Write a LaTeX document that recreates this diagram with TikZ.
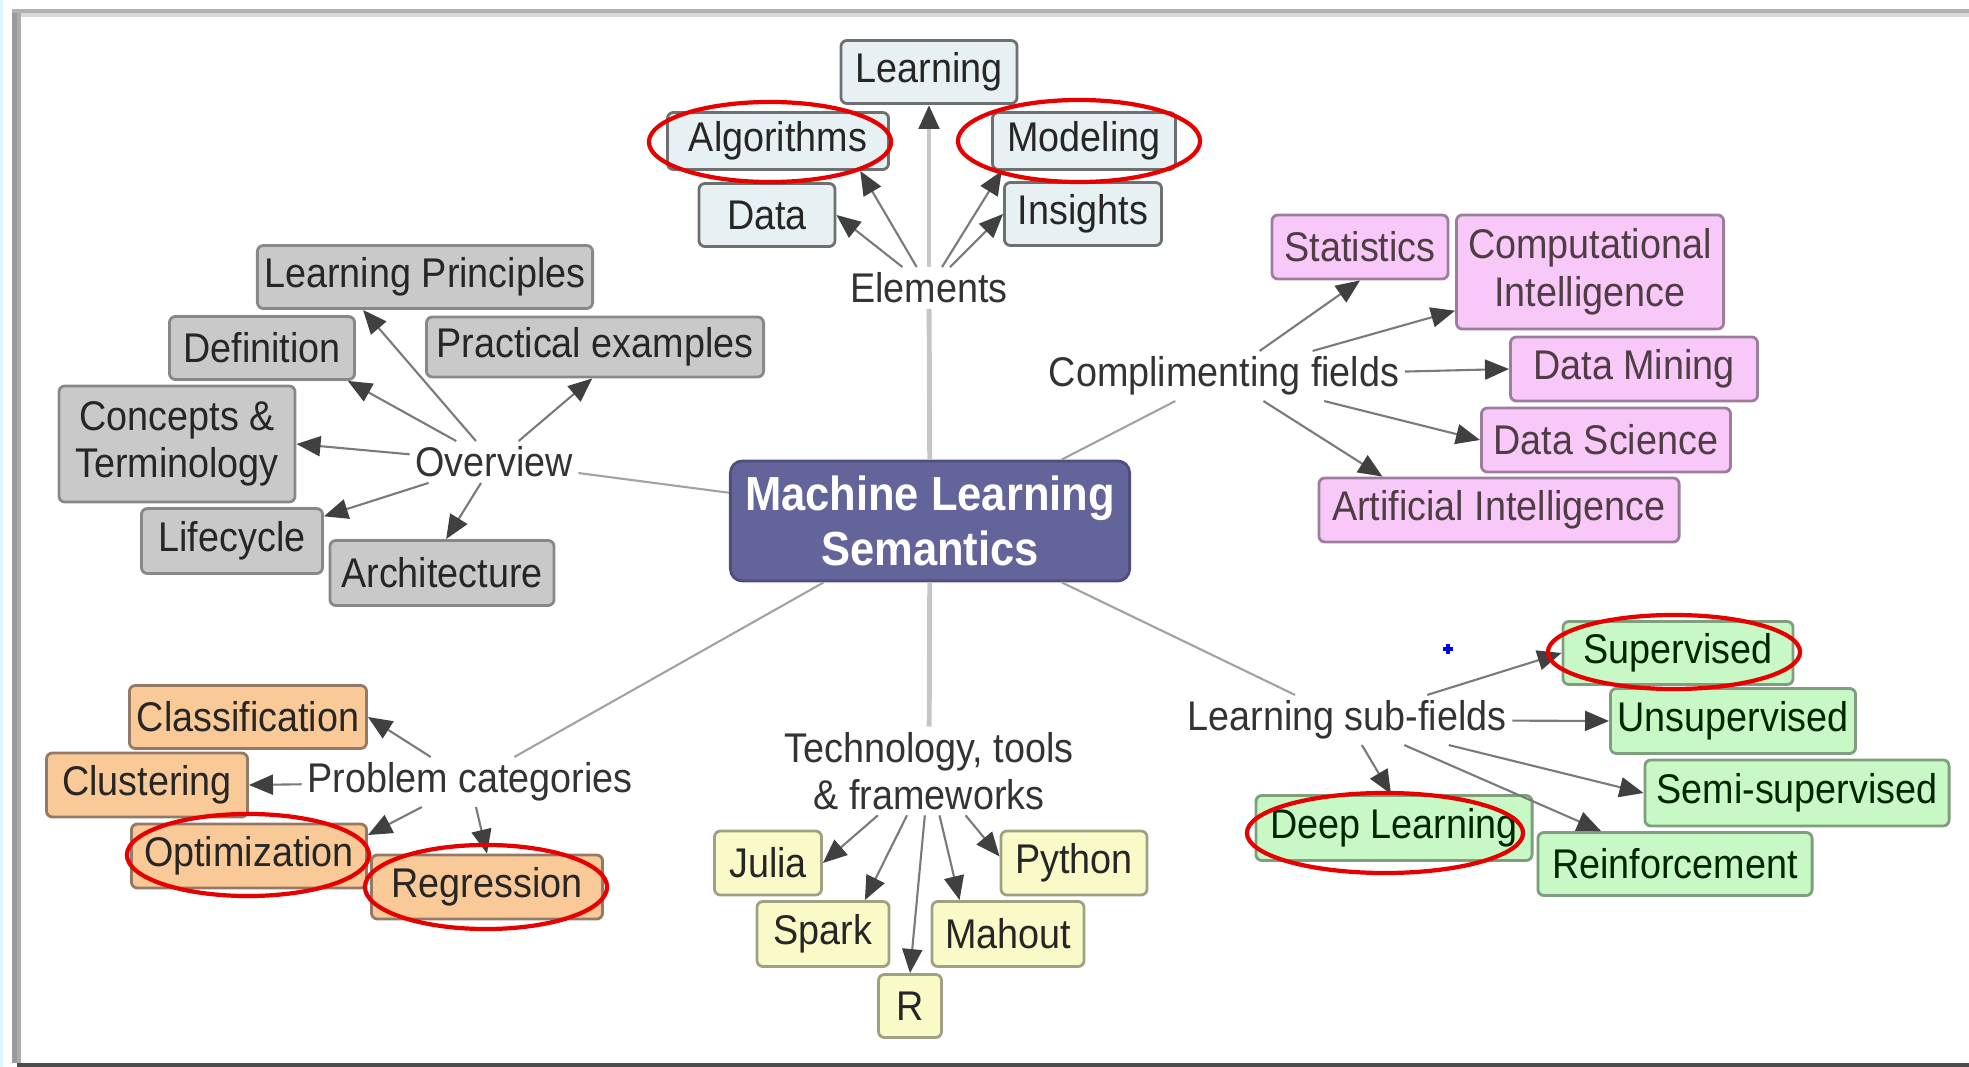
\documentclass[tikz,border=0pt]{standalone}
\usepackage{fontspec}
\setmainfont{Liberation Sans}[FakeStretch=0.91]
\usetikzlibrary{arrows.meta}

\definecolor{hubfill}{HTML}{62649A}
\definecolor{hubline}{HTML}{4E4F7E}
\definecolor{elfill}{HTML}{E7F0F3}
\definecolor{elline}{HTML}{6E7070}
\definecolor{ovfill}{HTML}{C9C9C9}
\definecolor{ovline}{HTML}{888888}
\definecolor{cffill}{HTML}{F8C9F8}
\definecolor{cfline}{HTML}{9C7E9C}
\definecolor{sffill}{HTML}{C8F8C6}
\definecolor{sfline}{HTML}{7E9E7E}
\definecolor{pcfill}{HTML}{F9CA98}
\definecolor{pcline}{HTML}{947A66}
\definecolor{ttfill}{HTML}{FAFAC9}
\definecolor{ttline}{HTML}{A0A082}
\definecolor{ringred}{HTML}{E60000}
\definecolor{linegray}{HTML}{7A7A7A}
\definecolor{tipgray}{HTML}{404040}

\tikzset{
  box/.style={rectangle, rounded corners=0.6mm, line width=0.8pt, minimum height=0.63cm,
    inner sep=0pt, align=center, text=black!85, font=\fontsize{11.8}{13.5}\selectfont},
  elembox/.style={box, draw=elline, fill=elfill},
  ovwbox/.style={box, draw=ovline, fill=ovfill},
  cmpbox/.style={box, draw=cfline, fill=cffill, text=black!80!magenta},
  subbox/.style={box, draw=sfline, fill=sffill, text=black!85!green},
  probox/.style={box, draw=pcline, fill=pcfill},
  tecbox/.style={box, draw=ttline, fill=ttfill},
  hubbox/.style={rectangle, rounded corners=1.2mm, line width=0.8pt, draw=hubline, fill=hubfill,
    minimum width=3.99cm, minimum height=1.2cm, align=center, text=white,
    font=\fontsize{13.6}{15.7}\selectfont\bfseries},
  lbl/.style={inner sep=0.05cm, align=center, text=black!80, font=\fontsize{11.8}{13.3}\selectfont},
  trunk/.style={draw=gray!45, line width=1.4pt},
  link/.style={draw=linegray!70, line width=0.6pt},
  arr/.style={draw=linegray, line width=0.6pt, -{Triangle[length=0.24cm, width=0.2cm, color=tipgray]}},
  ring/.style={draw=ringred, line width=1.2pt}
}

\begin{document}
\begin{tikzpicture}[x=0.01cm, y=-0.01cm]
\useasboundingbox (0,0) rectangle (1969,1067);

% frame of the screenshot
\fill[blue!20!cyan!15] (0,0) rectangle (3,1067);
\fill[gray!80] (12,9) rectangle (16.5,1063);
\fill[gray!65] (16.5,13) rectangle (20.5,1063);
\fill[gray!60] (12,9) rectangle (1969,13.5);
\fill[gray!30] (20.5,13.5) rectangle (1969,17.5);
\fill[black!70] (17,1063) rectangle (1969,1067);

% centre
\node[hubbox] (hub) at (930,521) {Machine Learning\\Semantics};

% elements
\node[lbl] (elm) at (929,288) {Elements};
\node[elembox, minimum width=1.76cm] (lrn) at (929,72) {Learning};
\node[elembox, minimum width=2.21cm, minimum height=0.57cm] (alg) at (778,141) {Algorithms};
\node[elembox, minimum width=1.83cm, minimum height=0.57cm] (mdl) at (1084,141) {Modeling};
\node[elembox, minimum width=1.36cm] (dat) at (767,215) {Data};
\node[elembox, minimum width=1.57cm] (ins) at (1083,214) {Insights};

% overview
\node[lbl] (ovw) at (494,462) {Overview};
\node[ovwbox, minimum width=3.35cm] (lpr) at (425,277) {Learning Principles};
\node[ovwbox, minimum width=1.85cm] (dfn) at (262,348) {Definition};
\node[ovwbox, minimum width=3.37cm, minimum height=0.6cm] (pex) at (595,347) {Practical examples};
\node[ovwbox, minimum width=2.36cm, minimum height=1.16cm] (cat) at (177,444) {Concepts \&\\Terminology};
\node[ovwbox, minimum width=1.81cm, minimum height=0.65cm] (lfc) at (232,541) {Lifecycle};
\node[ovwbox, minimum width=2.24cm, minimum height=0.65cm] (arc) at (442,573) {Architecture};

% complimenting fields
\node[lbl] (cfl) at (1224,376) {Complimenting fields};
\node[cmpbox, minimum width=1.76cm, minimum height=0.64cm] (sta) at (1360,247) {Statistics};
\node[cmpbox, minimum width=2.67cm, minimum height=1.14cm] (cin) at (1590,272) {Computational\\Intelligence};
\node[cmpbox, minimum width=2.47cm, minimum height=0.64cm] (dmi) at (1634,369) {Data Mining};
\node[cmpbox, minimum width=2.49cm, minimum height=0.64cm] (dsc) at (1606,440) {Data Science};
\node[cmpbox, minimum width=3.60cm, minimum height=0.64cm] (art) at (1499,510) {Artificial Intelligence};

% learning sub-fields
\node[lbl] (lsf) at (1347,720) {Learning sub-fields};
\node[subbox, minimum width=2.30cm] (sup) at (1678,653) {Supervised};
\node[subbox, minimum width=2.45cm, minimum height=0.65cm] (uns) at (1733,721) {Unsupervised};
\node[subbox, minimum width=3.04cm, minimum height=0.66cm] (ssv) at (1797,793) {Semi-supervised};
\node[subbox, minimum width=2.76cm, minimum height=0.65cm] (dpl) at (1394,828) {Deep Learning};
\node[subbox, minimum width=2.74cm] (rnf) at (1675,864) {Reinforcement};

% problem categories
\node[lbl] (pcat) at (470,782) {Problem categories};
\node[probox, minimum width=2.37cm] (cls) at (248,717) {Classification};
\node[probox, minimum width=2.01cm, minimum height=0.64cm] (clu) at (147,785) {Clustering};
\node[probox, minimum width=2.35cm, minimum height=0.64cm] (opt) at (249,856) {Optimization};
\node[probox, minimum width=2.31cm, minimum height=0.64cm] (reg) at (487,887) {Regression};

% technology
\node[lbl] (tec) at (929,771) {Technology, tools\\\& frameworks};
\node[tecbox, minimum width=1.07cm, minimum height=0.64cm] (jul) at (768,863) {Julia};
\node[tecbox, minimum width=1.46cm, minimum height=0.64cm] (pyt) at (1074,863) {Python};
\node[tecbox, minimum width=1.32cm, minimum height=0.65cm] (spk) at (823,934) {Spark};
\node[tecbox, minimum width=1.52cm, minimum height=0.65cm] (mah) at (1008,934) {Mahout};
\node[tecbox, minimum width=0.63cm] (rlg) at (910,1006) {R};

% from the centre
\path[trunk] (hub) -- (elm);
\path[trunk] (hub) -- (tec);
\path[link] (hub.172) -- (ovw);
\path[link] (hub.25) -- (cfl);
\path[link] (hub.-25) -- (lsf);
\path[link] (hub.210) -- (pcat);

% branches
\path[arr, draw=gray!45, line width=1.4pt] (elm) -- (lrn);
\path[arr] (elm) -- (alg.-20);
\path[arr] (elm) -- (dat.east);
\path[arr] (elm) -- (mdl.200);
\path[arr] (elm) -- (ins.west);

\path[arr] (ovw) -- (lpr.208);
\path[arr] (ovw) -- (dfn.-21);
\path[arr] (ovw) -- (cat.east);
\path[arr] (ovw) -- (pex.265);
\path[arr] (ovw) -- (lfc.15);
\path[arr] (ovw) -- (arc.83);

\path[arr] (cfl) -- (sta.south);
\path[arr] (cfl) -- (cin.196);
\path[arr] (cfl) -- (dmi.west);
\path[arr] (cfl) -- (dsc.west);
\path[arr] (cfl) -- (art.164);

\path[arr] (lsf) -- (sup.west);
\path[arr] (lsf) -- (uns.west);
\path[arr] (lsf) -- (ssv.west);
\path[arr] (lsf) -- (dpl.95);
\path[arr] (lsf) -- (rnf.156);

\path[arr] (pcat) -- (cls.east);
\path[arr] (pcat) -- (clu.east);
\path[arr] (pcat) -- (opt.10);
\path[arr] (pcat) -- (reg.north);

\path[arr] (tec) -- (jul.east);
\path[arr] (tec) -- (spk.39);
\path[arr] (tec) -- (rlg.north);
\path[arr] (tec) -- (mah.145);
\path[arr] (tec) -- (pyt.175);

% red marks
\draw[ring] (770,142) ellipse [x radius=1.21cm, y radius=0.40cm];
\draw[ring] (1079,141) ellipse [x radius=1.21cm, y radius=0.41cm];
\draw[ring] (1674,652) ellipse [x radius=1.26cm, y radius=0.37cm];
\draw[ring] (1385,833) ellipse [x radius=1.38cm, y radius=0.40cm];
\draw[ring] (248,855) ellipse [x radius=1.21cm, y radius=0.41cm];
\draw[ring] (486,887) ellipse [x radius=1.21cm, y radius=0.42cm];

% small blue cross
\draw[blue, line width=1pt] (1443,649) -- (1453,649) (1448,644) -- (1448,654);
\end{tikzpicture}
\end{document}
